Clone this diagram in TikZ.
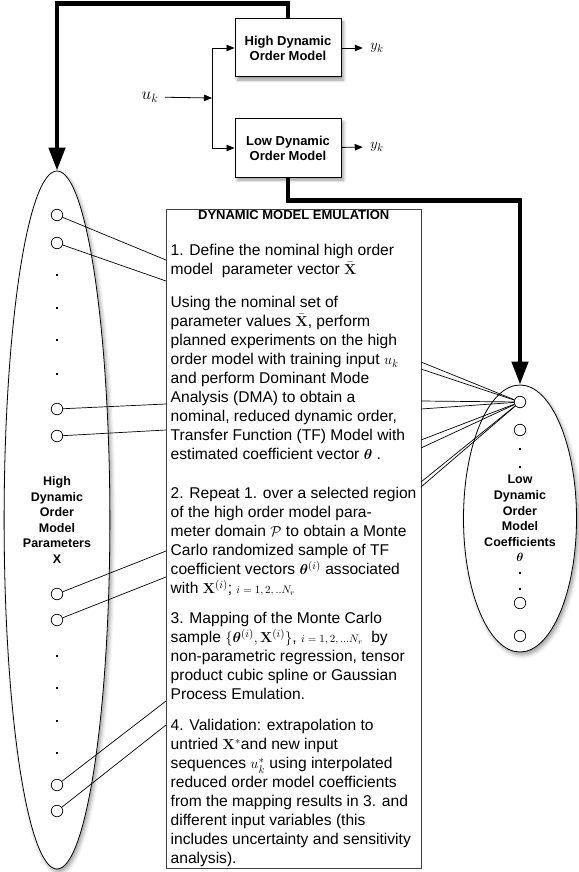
\documentclass[tikz,border=0pt]{standalone}
\usepackage{amsmath,bm}
\usepackage[no-math]{fontspec}
\setmainfont{Liberation Sans}
\usetikzlibrary{arrows.meta,positioning,shapes.geometric,shadows.blur}

\newcommand{\setfont}{\fontsize{12.5}{15.6}\selectfont\bfseries}
\newcommand{\bodyfont}{\fontsize{15.6}{19}\selectfont}
\newcommand{\smallmath}[1]{{\fontsize{11}{11}\selectfont$#1$}}

\begin{document}
\begin{tikzpicture}[x=1pt,y=-1pt,
    model/.style={rectangle,draw=black,line width=1pt,fill=white,minimum width=106pt,minimum height=58pt,align=center,font=\fontsize{13}{15}\selectfont\bfseries,blur shadow={shadow xshift=2.5pt,shadow yshift=-3pt,shadow blur radius=3pt}},
    paramset/.style={ellipse,draw=black,line width=0.8pt,fill=white,align=center,font=\setfont,blur shadow={shadow xshift=2pt,shadow yshift=-3pt,shadow blur radius=4pt}},
    emulation/.style={rectangle,draw=black!75,line width=0.9pt,minimum width=255pt,minimum height=659pt,anchor=north west},
    para/.style={anchor=north west,align=left,inner sep=0pt,font=\bodyfont},
    port/.style={circle,draw=black,line width=0.7pt,fill=white,minimum size=11.5pt,inner sep=0pt},
    dot/.style={rectangle,fill=black,minimum size=2.6pt,inner sep=0pt},
    signal/.style={line width=0.8pt,-{Triangle[length=8pt,width=6.5pt]}},
    feedback/.style={line width=4.5pt,-{Triangle[length=23pt,width=16pt]}},
    link/.style={line width=0.7pt}]
    \useasboundingbox (0,0) rectangle (578,872);

    % models
    \node[model] (high) at (288,48) {High Dynamic\\Order Model};
    \node[model, below=41pt of high] (low) {Low Dynamic\\Order Model};
    \node[font=\fontsize{17}{17}\selectfont] (uk) at (150,97) {$u_k$};
    \coordinate (split) at (212,98);
    \node[font=\fontsize{15}{15}\selectfont] (yhigh) at (377,48) {$y_k$};
    \node[font=\fontsize{15}{15}\selectfont] (ylow) at (377,147) {$y_k$};
    \draw[signal, shorten <=3pt] (uk) -- (split);
    \draw[signal] (split) |- (high);
    \draw[signal] (split) |- (low);
    \draw[signal, shorten >=4pt] (high) -- (yhigh);
    \draw[signal, shorten >=4pt] (low) -- (ylow);

    % parameter and coefficient sets
    \node[paramset, minimum width=104pt, minimum height=698pt] (hiset) at (57,520)
        {High\\Dynamic\\Order\\Model\\Parameters\\X};
    \node[paramset, minimum width=113pt, minimum height=267pt] (loset) at (520,518.5)
        {Low\\Dynamic\\Order\\Model\\Coefficients\\$\bm{\theta}$};
    \draw[feedback] (high.north) -- ++(0,-15) -| (hiset.north);
    \draw[feedback] (low.south) -- ++(0,23) -| (loset.north);

    % emulation steps
    \node[emulation] (emu) at (166,209) {};
    \node[font=\fontsize{13}{15}\selectfont\bfseries] (hdr) at (293.7,215) {DYNAMIC MODEL EMULATION};
    \node[para] (define) at (170.5,244) {1. Define the nominal high order\\
        model\ \ parameter vector $\bar{\mathbf{X}}$};
    \node[para] (nominal) at (170.5,296) {Using the nominal set of\\
        parameter values $\bar{\mathbf{X}}$, perform\\
        planned experiments on the high\\
        order model with training input $u_k$\\
        and perform Dominant Mode\\
        Analysis (DMA) to obtain a\\
        nominal, reduced dynamic order,\\
        Transfer Function (TF) Model with\\
        estimated coefficient vector $\bm{\theta}$ .};
    \node[para] (repeat) at (170.5,487) {2. Repeat 1. over a selected region\\
        of the high order model para-\\
        meter domain $\mathcal{P}$ to obtain a Monte\\
        Carlo randomized sample of TF\\
        coefficient vectors $\bm{\theta}^{(i)}$ associated\\
        with $\mathbf{X}^{(i)}$;\ \smallmath{i=1,2,..N_r}};
    \node[para] (mapping) at (170.5,612) {3. Mapping of the Monte Carlo\\
        sample $\{\bm{\theta}^{(i)}, \mathbf{X}^{(i)}\}$, \smallmath{i=1,2,...N_r}\ \ by\\
        non-parametric regression, tensor\\
        product cubic spline or Gaussian\\
        Process Emulation.};
    \node[para] (validate) at (170.5,719) {4. Validation: extrapolation to\\
        untried $\mathbf{X}^{*}$and new input\\
        sequences $u_k^{*}$ using interpolated\\
        reduced order model coefficients\\
        from the mapping results in 3. and\\
        different input variables (this\\
        includes uncertainty and sensitivity\\
        analysis).};

    % ports
    \foreach \y [count=\i] in {215,243,409,436,594,620,785,811}
        \node[port] (hp\i) at (57,\y) {};
    \foreach \y [count=\i] in {275,308,340,374,656,688,721,753}
        \node[dot] (hd\i) at (57,\y) {};
    \foreach \y [count=\i] in {402,430,603,636}
        \node[port] (lp\i) at (520,\y) {};
    \foreach \y [count=\i] in {449,467,573,589}
        \node[dot] (ld\i) at (520,\y) {};

    % links
    \foreach \i/\y in {1/260,2/281,3/404,4/430,5/551,6/577,7/701,8/725}
        \coordinate (ein\i) at (166,\y);
    \foreach \i/\y in {1/362,2/369,3/401,4/409,5/440,6/448,7/482,8/487}
        \coordinate (eout\i) at (421,\y);
    \foreach \i in {1,...,8} {
        \draw[link] (hp\i) -- (ein\i);
        \draw[link] (eout\i) -- (lp1);
    }
\end{tikzpicture}
\end{document}
